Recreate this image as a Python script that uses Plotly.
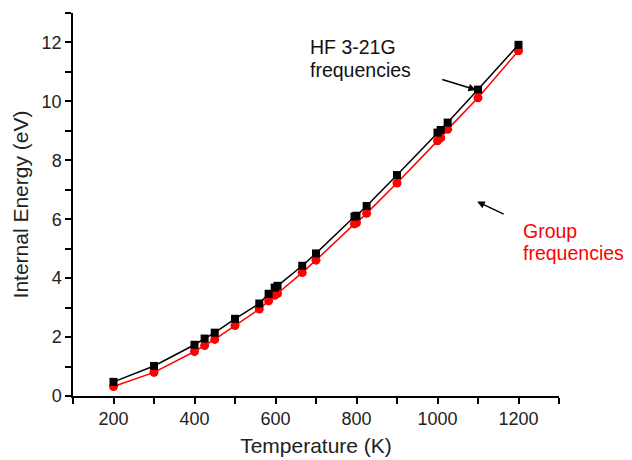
import plotly.graph_objects as go

temperature = [200, 300, 400, 425, 450, 500, 560, 583, 598, 605, 666, 700,
               795, 800, 825, 900, 1000, 1008, 1025, 1100, 1200]
hf_321g = [0.48, 1.02, 1.74, 1.95, 2.15, 2.62, 3.14, 3.47, 3.68, 3.74, 4.42, 4.84,
           6.09, 6.12, 6.45, 7.50, 8.94, 9.03, 9.28, 10.40, 11.92]
group_freq = [0.32, 0.80, 1.51, 1.71, 1.92, 2.39, 2.95, 3.23, 3.42, 3.48, 4.19, 4.61,
              5.84, 5.88, 6.20, 7.23, 8.66, 8.76, 9.05, 10.12, 11.72]

x_ticks = [200, 400, 600, 800, 1000, 1200]
y_ticks = [0, 2, 4, 6, 8, 10, 12]

FONT = "Liberation Sans, Arial, sans-serif"

fig = go.Figure()
fig.add_trace(go.Scatter(
    x=temperature, y=group_freq, mode="lines+markers",
    line=dict(color="#ff0000", width=1.5),
    marker=dict(symbol="circle", size=9, color="#ff0000"),
    name="Group frequencies", showlegend=False))
fig.add_trace(go.Scatter(
    x=temperature, y=hf_321g, mode="lines+markers",
    line=dict(color="#000000", width=1.5),
    marker=dict(symbol="square", size=8, color="#000000"),
    name="HF 3-21G frequencies", showlegend=False))

axis_common = dict(
    showline=True, linecolor="black", linewidth=1.5,
    ticks="outside", ticklen=6, tickwidth=1.5, tickcolor="black",
    showgrid=False, zeroline=False, mirror=False,
    tickfont=dict(family=FONT, size=18, color="#222"),
)

fig.update_layout(
    width=632, height=460,
    margin=dict(l=65, r=81, t=5, b=72),
    paper_bgcolor="white", plot_bgcolor="white",
    font=dict(family=FONT, color="#111"),
    xaxis=dict(range=[100, 1300], tickvals=x_ticks,
               minor=dict(dtick=100, tick0=100, ticks="outside", ticklen=6,
                          tickwidth=1.5, tickcolor="black", showgrid=False),
               title=dict(text="Temperature (K)", font=dict(family=FONT, size=21, color="#222"),
                          standoff=10),
               **axis_common),
    yaxis=dict(range=[0, 13], tickvals=y_ticks,
               minor=dict(dtick=1, tick0=0, ticks="outside", ticklen=6,
                          tickwidth=1.5, tickcolor="black", showgrid=False),
               title=dict(text="Internal Energy (eV)", font=dict(family=FONT, size=21, color="#222"),
                          standoff=7),
               **axis_common),
)

ANN = 19.5
# text labels
fig.add_annotation(x=680, y=11.83, xref="x", yref="y", text="HF 3-21G",
                   showarrow=False, xanchor="left", yanchor="middle",
                   font=dict(family=FONT, size=ANN, color="#111"))
fig.add_annotation(x=680, y=11.08, xref="x", yref="y", text="frequencies",
                   showarrow=False, xanchor="left", yanchor="middle",
                   font=dict(family=FONT, size=ANN, color="#111"))
fig.add_annotation(x=1206, y=5.60, xref="x", yref="y", text="Group",
                   showarrow=False, xanchor="left", yanchor="middle",
                   font=dict(family=FONT, size=ANN, color="#ff0000"))
fig.add_annotation(x=1206, y=4.86, xref="x", yref="y", text="frequencies",
                   showarrow=False, xanchor="left", yanchor="middle",
                   font=dict(family=FONT, size=ANN, color="#ff0000"))

# arrows
fig.add_annotation(x=1095, y=10.39, ax=1008, ay=10.76, xref="x", yref="y",
                   axref="x", ayref="y", text="", showarrow=True,
                   arrowhead=2, arrowsize=1, arrowwidth=1.5, arrowcolor="black")
fig.add_annotation(x=1098, y=6.60, ax=1167, ay=6.15, xref="x", yref="y",
                   axref="x", ayref="y", text="", showarrow=True,
                   arrowhead=2, arrowsize=1, arrowwidth=1.5, arrowcolor="black")

fig.write_html("out.html")
